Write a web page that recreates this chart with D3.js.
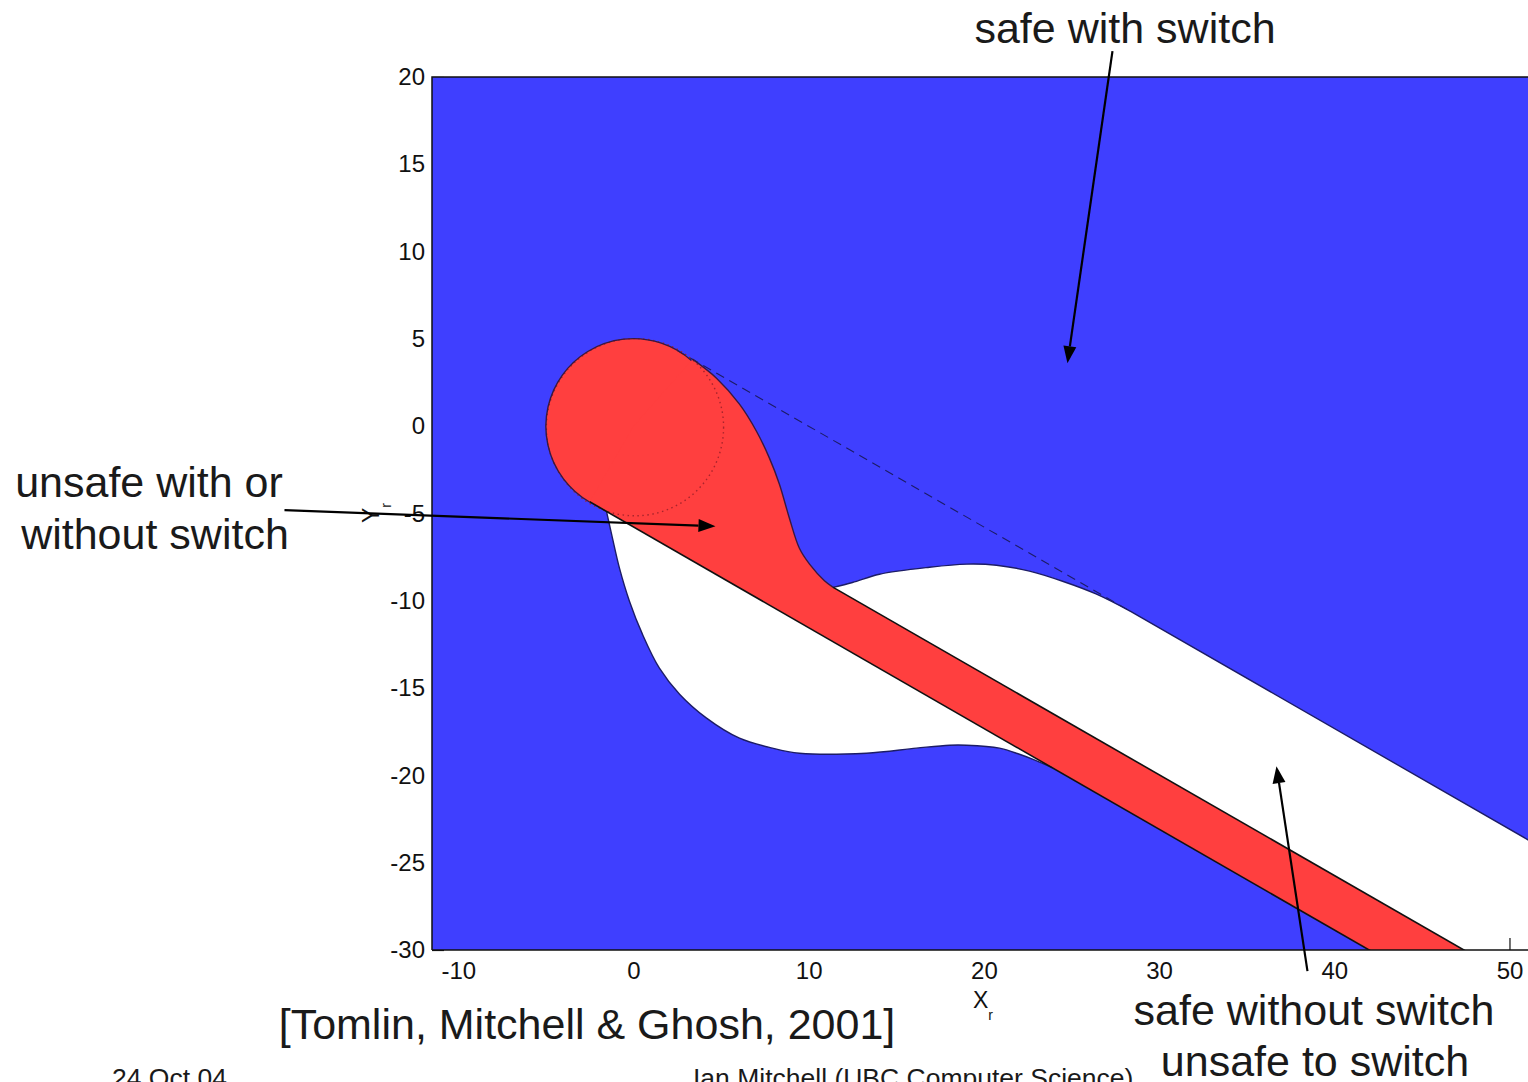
<!DOCTYPE html>
<html><head><meta charset="utf-8">
<script src="https://cdn.jsdelivr.net/npm/d3@7"></script>
<style>
body{margin:0;background:#fff;overflow:hidden;}
svg{display:block;}
text{font-family:"Liberation Sans",Arial,sans-serif;}
</style>
</head><body>
<svg id="c" width="1528" height="1082"></svg>
<script>
// ---------- data (data units of the plot) ----------
const xTicks = [-10, 0, 10, 20, 30, 40, 50];
const yTicks = [20, 15, 10, 5, 0, -5, -10, -15, -20, -25, -30];
const xDomain = [-11.5, 52];
const yDomain = [-30, 20];
const unsafeCircle = {cx: 0, cy: 0, r: 5};
const bandSlope = -0.577;
const bandUpperIntercept = -2.65;
const bandLowerIntercept = -5.77;
const dashedIntercept = 5.77;
const neckCurve = [[3.37,3.84],[4.74,2.75],[6.05,1.26],[7.02,-0.29],[7.76,-1.83],[8.33,-3.32],[8.90,-5.27],[9.47,-6.99],[10.05,-7.90],[10.9,-8.85],[11.4,-9.23]];
const upperWhiteBump = [[11.4,-9.23],[12.5,-8.95],[14.04,-8.48],[16.89,-8.08],[19.01,-7.90],[20.72,-7.96],[22.60,-8.30],[24.49,-8.88],[26.43,-9.62],[28.4,-10.62]];
const lowerWhiteCurve = [[-1.54,-4.88],[-1.20,-6.41],[-0.80,-8.13],[-0.23,-10.02],[0.51,-11.91],[1.48,-13.86],[2.63,-15.35],[4.17,-16.72],[6.05,-17.87],[7.93,-18.44],[9.47,-18.73],[13.30,-18.73],[16.15,-18.44],[18.04,-18.27],[19.01,-18.27],[20.89,-18.44],[22.03,-18.79],[22.77,-19.07],[23.92,-19.57]];
const arrowsData = [
  {from: [27.34, 21.48], to: [24.77, 3.61]},
  {from: [-19.92, -4.81], to: [4.68, -5.73]},
  {from: [38.47, -31.21], to: [36.70, -19.47]}
];
const annotations = [
  {text: "safe with switch", x: 1125, y: 43, size: 43, anchor: "middle"},
  {text: "unsafe with or", x: 149, y: 497, size: 43, anchor: "middle"},
  {text: "without switch", x: 155, y: 549, size: 43, anchor: "middle"},
  {text: "[Tomlin, Mitchell & Ghosh, 2001]", x: 587, y: 1039, size: 43, anchor: "middle"},
  {text: "safe without switch", x: 1314, y: 1025, size: 43, anchor: "middle"},
  {text: "unsafe to switch", x: 1315, y: 1076, size: 43, anchor: "middle"},
  {text: "24 Oct 04", x: 112, y: 1087, size: 26.5, anchor: "start"},
  {text: "Ian Mitchell (UBC Computer Science)", x: 693, y: 1087, size: 26.5, anchor: "start"}
];

// ---------- layout ----------
const BLUE = "#3f3fff", RED = "#ff3f3f";
const plotL = 432, plotT = 77, plotB = 950;
const pxPerUnitX = 17.52;
const plotR = plotL + (xDomain[1] - xDomain[0]) * pxPerUnitX;
const x = d3.scaleLinear().domain(xDomain).range([plotL, plotR]);
const y = d3.scaleLinear().domain(yDomain).range([plotB, plotT]);
const svg = d3.select("#c");

svg.append("defs").append("clipPath").attr("id", "clip")
  .append("rect").attr("x", plotL).attr("y", plotT).attr("width", plotR - plotL).attr("height", plotB - plotT);

const P = d => [x(d[0]), y(d[1])];
const lineLin = d3.line();
const lineCurve = d3.line().curve(d3.curveCatmullRom.alpha(0.5));
const bandY = (b, xv) => bandSlope * xv + b;
const bandXAt = (b, yv) => (yv - b) / bandSlope;
const fmt = d => String(d);

// ticks (drawn under patches, inward)
const axB = svg.append("g").attr("transform", `translate(0,${plotB})`)
  .call(d3.axisBottom(x).tickValues(xTicks).tickSizeInner(-12).tickSizeOuter(0).tickPadding(18).tickFormat(fmt));
const axL = svg.append("g").attr("transform", `translate(${plotL},0)`)
  .call(d3.axisLeft(y).tickValues(yTicks).tickSizeInner(-12).tickSizeOuter(0).tickPadding(8).tickFormat(fmt));
[axB, axL].forEach(a => {
  a.select(".domain").remove();
  a.selectAll(".tick line").attr("stroke", "#111").attr("stroke-width", 1.2);
  a.selectAll(".tick text").attr("font-size", 24).attr("fill", "#111")
    .attr("font-family", "'Liberation Sans', Arial, sans-serif");
});
axB.selectAll(".tick text").attr("dy", "0.71em").attr("y", 12);
axL.selectAll(".tick text").attr("x", -7);

const patches = svg.append("g").attr("clip-path", "url(#clip)");

// white (safe without switch) polygon -> hole in blue
const xFar = xDomain[1] + 1;
const lowerPart = lineCurve(lowerWhiteCurve.map(P));
const extra = [[bandXAt(bandLowerIntercept, yDomain[0]), yDomain[0]], [xFar, yDomain[0]], [xFar, bandY(dashedIntercept, xFar)], upperWhiteBump[upperWhiteBump.length - 1]];
const bumpRev = upperWhiteBump.slice().reverse();
const whitePath = lowerPart + extra.map(d => "L" + P(d).join(",")).join("") + "L" + lineCurve(bumpRev.map(P)).slice(1) + "Z";
const rectPath = `M${plotL - 2},${plotT - 2}H${plotR + 2}V${plotB + 2}H${plotL - 2}Z`;

patches.append("path").attr("d", rectPath + whitePath).attr("fill", BLUE).attr("fill-rule", "evenodd");

// red (unsafe) region
const cx = x(unsafeCircle.cx), cy = y(unsafeCircle.cy), rPx = x(unsafeCircle.r) - x(0);
const footX = -bandSlope * bandLowerIntercept / (1 + bandSlope * bandSlope);
const footY = bandLowerIntercept / (1 + bandSlope * bandSlope);
const tangentPoint = [footX, footY];
const upperBottom = [bandXAt(bandUpperIntercept, yDomain[0] - 1), yDomain[0] - 1];
const lowerBottom = [bandXAt(bandLowerIntercept, yDomain[0] - 1), yDomain[0] - 1];

patches.append("circle").attr("cx", cx).attr("cy", cy).attr("r", rPx).attr("fill", RED);
const neckPath = lineCurve(neckCurve.map(P));
const redBody = neckPath + [upperBottom, lowerBottom, tangentPoint, [unsafeCircle.cx, unsafeCircle.cy]].map(d => "L" + P(d).join(",")).join("") + "Z";
patches.append("path").attr("d", redBody).attr("fill", RED);

// dotted circle
patches.append("circle").attr("cx", cx + 1.5).attr("cy", cy + 1).attr("r", rPx + 1)
  .attr("fill", "none").attr("stroke", "#a8242c").attr("stroke-width", 1.4).attr("stroke-dasharray", "1.5,3.5");

// outlines
const navy = "#1c1c66";
patches.append("path").attr("d", lowerPart).attr("fill", "none").attr("stroke", navy).attr("stroke-width", 1.4);
patches.append("path").attr("d", lineCurve(upperWhiteBump.map(P)) + "L" + P([xFar, bandY(dashedIntercept, xFar)]).join(","))
  .attr("fill", "none").attr("stroke", navy).attr("stroke-width", 1.4);
// dashed tangent line
const dashStart = [-bandSlope * dashedIntercept / (1 + bandSlope * bandSlope), dashedIntercept / (1 + bandSlope * bandSlope)];
patches.append("path").attr("d", lineLin([dashStart, upperWhiteBump[upperWhiteBump.length - 1]].map(P)))
  .attr("fill", "none").attr("stroke", navy).attr("stroke-width", 1.1).attr("stroke-dasharray", "9,6");
// circle arc outline
const a0 = Math.atan2(y(tangentPoint[1]) - cy, x(tangentPoint[0]) - cx);
const a1 = Math.atan2(y(neckCurve[0][1]) - cy, x(neckCurve[0][0]) - cx) + 2 * Math.PI;
const arcP = d3.path();
arcP.moveTo(cx + rPx * Math.cos(a0), cy + rPx * Math.sin(a0));
arcP.arc(cx, cy, rPx, a0, a1, false);
patches.append("path").attr("d", arcP.toString()).attr("fill", "none").attr("stroke", "#3a1840").attr("stroke-width", 1.4);
patches.append("path").attr("d", neckPath).attr("fill", "none").attr("stroke", "#3a1840").attr("stroke-width", 1.4);
// band edges
patches.append("path").attr("d", lineLin([neckCurve[neckCurve.length - 1], upperBottom].map(P)))
  .attr("fill", "none").attr("stroke", "#111").attr("stroke-width", 1.6);
patches.append("path").attr("d", lineLin([tangentPoint, lowerBottom].map(P)))
  .attr("fill", "none").attr("stroke", "#111").attr("stroke-width", 1.6);

// axes box lines
svg.append("path").attr("d", `M${plotL},${plotB}H${plotR}M${plotL},${plotB}V${plotT}H${plotR}`)
  .attr("fill", "none").attr("stroke", "#111").attr("stroke-width", 1.5);

// axis labels
const xl = svg.append("text").attr("x", 973).attr("y", 1008).attr("font-size", 23).attr("fill", "#111");
xl.append("tspan").text("X");
xl.append("tspan").attr("font-size", 14).attr("dy", 12).text("r");
const yl = svg.append("text").attr("transform", "translate(379,523) rotate(-90)").attr("font-size", 23).attr("fill", "#111");
yl.append("tspan").text("Y");
yl.append("tspan").attr("font-size", 14).attr("dy", 12).text("r");

// annotations
annotations.forEach(a => {
  svg.append("text").attr("x", a.x).attr("y", a.y).attr("font-size", a.size)
    .attr("text-anchor", a.anchor).attr("fill", "#1a1a1a").text(a.text);
});

// arrows
arrowsData.forEach(a => {
  const s = P(a.from), t = P(a.to);
  const ang = Math.atan2(t[1] - s[1], t[0] - s[0]);
  const L = 17, W = 6.5;
  const bx = t[0] - L * Math.cos(ang), by = t[1] - L * Math.sin(ang);
  svg.append("line").attr("x1", s[0]).attr("y1", s[1]).attr("x2", bx).attr("y2", by)
    .attr("stroke", "#000").attr("stroke-width", 2.2);
  const pts = [t, [bx + W * Math.sin(ang), by - W * Math.cos(ang)], [bx - W * Math.sin(ang), by + W * Math.cos(ang)]];
  svg.append("path").attr("d", lineLin(pts) + "Z").attr("fill", "#000");
});
</script>
</body></html>
